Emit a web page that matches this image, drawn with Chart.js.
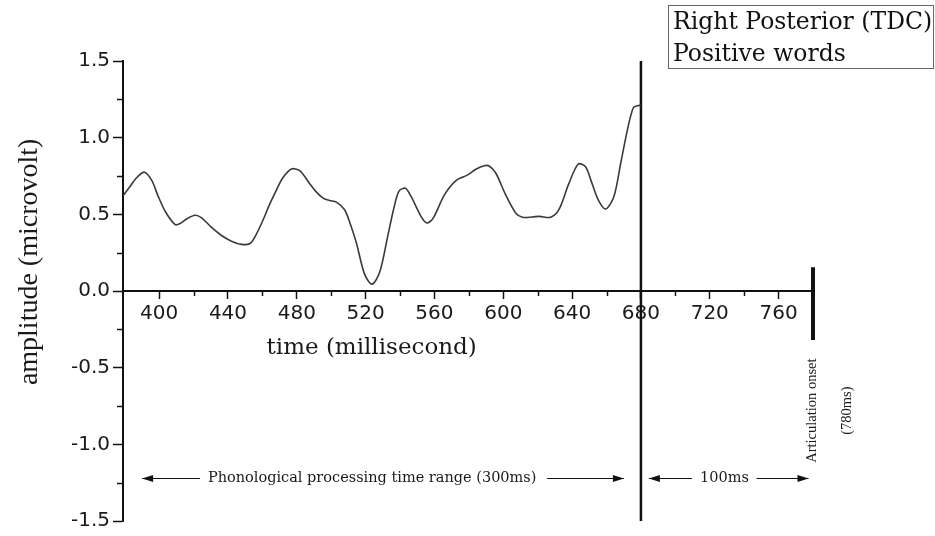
<!DOCTYPE html>
<html><head><meta charset="utf-8">
<script src="https://cdn.jsdelivr.net/npm/chart.js@4/dist/chart.umd.min.js"></script>
<style>html,body{margin:0;padding:0;background:#fff;}#wrap{width:935px;height:536px;position:relative;}</style>
</head><body><div id="wrap"><canvas id="c" width="935" height="536"></canvas></div>
<script>
// ---- data ----
const timeMs = [379,383,387,391.5,395.8,399,403.5,409.3,412.2,416,420.9,424.7,430,436.3,442,447.9,452.8,456,460.5,464,468.2,472,476.9,481.7,487.5,491,495.3,499,503,507.8,511,514.6,519.4,523.7,528.1,532.9,536,539.3,543.1,546.4,552.2,555.5,559,565.8,572.5,579.3,584.1,588.9,591.8,595.7,601.4,607.2,611.1,616.9,621,627.5,632.3,638.1,643.6,647.8,651,655.2,659.5,664.3,668.2,672.1,675.6,678.6,680];
const amplitude = [0.62,0.68,0.74,0.775,0.72,0.63,0.52,0.433,0.44,0.47,0.494,0.477,0.42,0.362,0.325,0.304,0.31,0.36,0.466,0.56,0.66,0.74,0.796,0.785,0.70,0.65,0.606,0.59,0.58,0.53,0.44,0.315,0.11,0.045,0.12,0.36,0.52,0.65,0.67,0.617,0.487,0.444,0.47,0.627,0.72,0.757,0.794,0.817,0.815,0.768,0.627,0.509,0.481,0.483,0.487,0.481,0.53,0.70,0.828,0.81,0.72,0.595,0.535,0.617,0.83,1.048,1.195,1.21,1.21];
const xTickValues = [400,440,480,520,560,600,640,680,720,760];
const xMinorTicks = [420,460,500,540,580,620,660,700,740];
const yTickValues = [-1.5,-1.0,-0.5,0,0.5,1.0,1.5];
const yMinorTicks = [-1.25,-0.75,-0.25,0.25,0.75,1.25];
const boundaryTime = 680;          // end of phonological window
const boundaryRange = [1.5,-1.5];
const onsetTime = 780;             // articulation onset
const onsetRange = [0.155,-0.32];
const legendLines = ['Right Posterior (TDC)','Positive words'];
const xTitle = 'time (millisecond)';
const yTitle = 'amplitude (microvolt)';
const annoPhono = 'Phonological processing time range (300ms)';
const annoGap = '100ms';
const annoOnset = ['Articulation onset','(780ms)'];

const INK = '#111';

function arrowHead(ctx, x, y, dir){
  ctx.beginPath();
  ctx.moveTo(x, y);
  ctx.lineTo(x - dir*11, y - 3.5);
  ctx.lineTo(x - dir*11, y + 3.5);
  ctx.closePath();
  ctx.fill();
}
function hLine(ctx, x1, x2, y){
  ctx.beginPath(); ctx.moveTo(x1, y); ctx.lineTo(x2, y); ctx.stroke();
}

const decor = {
  id: 'decor',
  afterDraw(chart){
    const ctx = chart.ctx;
    const xs = chart.scales.x, ys = chart.scales.y;
    const ca = chart.chartArea;
    const y0 = ys.getPixelForValue(0);
    ctx.save();
    ctx.strokeStyle = INK; ctx.fillStyle = INK;
    // minor ticks
    ctx.lineWidth = 1.5;
    xMinorTicks.forEach(v => { const px = Math.round(xs.getPixelForValue(v)) + 0.5; ctx.beginPath(); ctx.moveTo(px, y0); ctx.lineTo(px, y0 + 5); ctx.stroke(); });
    yMinorTicks.forEach(v => { const py = Math.round(ys.getPixelForValue(v)) + 0.5; ctx.beginPath(); ctx.moveTo(ca.left - 6, py); ctx.lineTo(ca.left, py); ctx.stroke(); });

    // axis titles
    ctx.fillStyle = '#1a1a1a';
    ctx.font = '23px "DejaVu Serif"';
    ctx.textAlign = 'center'; ctx.textBaseline = 'alphabetic';
    ctx.fillText(xTitle, xs.getPixelForValue(523.5), y0 + 63);
    ctx.save();
    ctx.translate(ca.left - 93, ys.getPixelForValue(0.19));
    ctx.rotate(-Math.PI/2);
    ctx.font = '28px "Liberation Serif"';
    ctx.textBaseline = 'middle';
    ctx.fillText(yTitle, 0, 0);
    ctx.restore();

    // annotation row
    const ay = Math.round(ys.getPixelForValue(-1.222)) + 0.5;
    ctx.lineWidth = 1;
    ctx.font = '14.5px "DejaVu Serif"';
    ctx.textBaseline = 'middle';
    ctx.fillStyle = '#1a1a1a';
    ctx.fillText(annoPhono, xs.getPixelForValue(523.8), ay);
    ctx.fillStyle = INK;
    hLine(ctx, xs.getPixelForValue(390.1), xs.getPixelForValue(423.8), ay);
    arrowHead(ctx, xs.getPixelForValue(390.1), ay, -1);
    hLine(ctx, xs.getPixelForValue(625.5), xs.getPixelForValue(670.1), ay);
    arrowHead(ctx, xs.getPixelForValue(670.1), ay, 1);
    ctx.fillStyle = '#1a1a1a';
    ctx.fillText(annoGap, xs.getPixelForValue(728.5), ay);
    ctx.fillStyle = INK;
    hLine(ctx, xs.getPixelForValue(684.6), xs.getPixelForValue(709.6), ay);
    arrowHead(ctx, xs.getPixelForValue(684.6), ay, -1);
    hLine(ctx, xs.getPixelForValue(747.2), xs.getPixelForValue(777.4), ay);
    arrowHead(ctx, xs.getPixelForValue(777.4), ay, 1);

    // articulation onset label (rotated)
    ctx.save();
    ctx.fillStyle = '#1a1a1a';
    ctx.font = '14.5px "Liberation Serif"';
    ctx.textAlign = 'center'; ctx.textBaseline = 'middle';
    ctx.translate(xs.getPixelForValue(onsetTime) - 1, ys.getPixelForValue(-0.78));
    ctx.rotate(-Math.PI/2);
    ctx.fillText(annoOnset[0], 0, 0);
    ctx.fillText(annoOnset[1], 0, 35);
    ctx.restore();

    // legend box
    ctx.lineWidth = 1;
    ctx.strokeStyle = '#666';
    ctx.strokeRect(668.5, 5.5, 265, 63);
    ctx.fillStyle = '#111';
    ctx.font = '23.5px "DejaVu Serif"';
    ctx.textAlign = 'left'; ctx.textBaseline = 'alphabetic';
    ctx.fillText(legendLines[0], 673, 29);
    ctx.fillText(legendLines[1], 673, 61);
    ctx.restore();
  }
};

const tickFont = {family: 'DejaVu Sans', size: 20};

new Chart(document.getElementById('c'), {
  type: 'line',
  data: {
    datasets: [
      { data: timeMs.map((t,i)=>({x:t, y:amplitude[i]})), borderColor: '#3a3a3a', borderWidth: 1.6, pointRadius: 0, tension: 0.3, fill: false },
      { data: boundaryRange.map(v=>({x:boundaryTime, y:v})), borderColor: INK, borderWidth: 2.5, pointRadius: 0, clip: 5 },
      { data: onsetRange.map(v=>({x:onsetTime, y:v})), borderColor: INK, borderWidth: 4, pointRadius: 0, clip: 5 }
    ]
  },
  options: {
    responsive: false, animation: false, devicePixelRatio: 1,
    layout: { padding: { left: 0, right: 122, top: 61, bottom: 12 } },
    plugins: { legend: { display: false }, tooltip: { enabled: false } },
    scales: {
      x: {
        type: 'linear', min: 379, max: 780, position: { y: 0 },
        afterBuildTicks: s => { s.ticks = xTickValues.map(v => ({ value: v })); },
        grid: { display: true, drawOnChartArea: false, drawTicks: true, tickLength: 7, tickWidth: 1.5, tickColor: INK },
        border: { display: true, color: INK, width: 2 },
        ticks: { font: tickFont, color: '#1a1a1a', padding: 4, maxRotation: 0, autoSkip: false, callback: v => String(v) }
      },
      y: {
        type: 'linear', min: -1.5, max: 1.5, position: 'left',
        afterBuildTicks: s => { s.ticks = yTickValues.map(v => ({ value: v })); },
        afterFit: s => { s.width = 123; },
        grid: { display: true, drawOnChartArea: false, drawTicks: true, tickLength: 10, tickWidth: 1.5, tickColor: INK },
        border: { display: true, color: INK, width: 2 },
        ticks: { font: tickFont, color: '#1a1a1a', padding: 3, autoSkip: false, callback: v => v.toFixed(1) }
      }
    }
  },
  plugins: [decor]
});
</script></body></html>
